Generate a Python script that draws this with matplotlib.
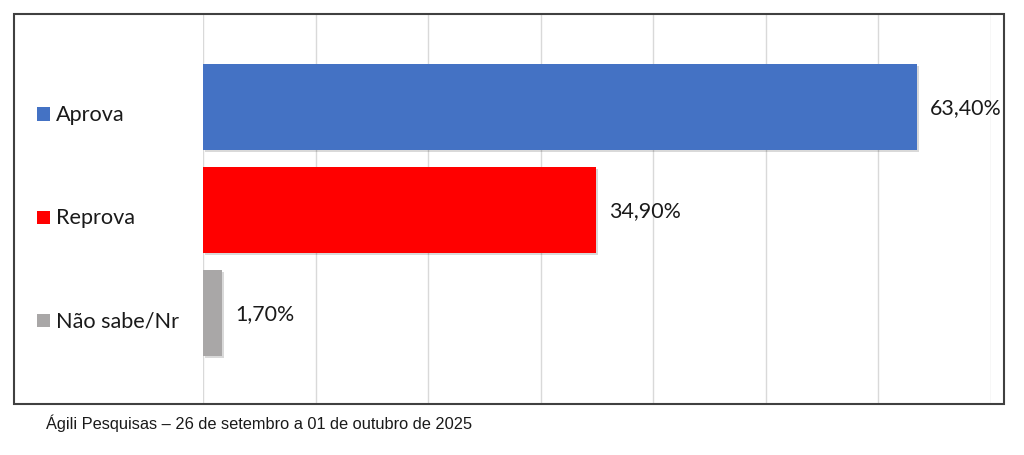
import matplotlib
matplotlib.use("Agg")
import matplotlib.pyplot as plt
from matplotlib.patches import Rectangle
from matplotlib import patheffects as pe
import matplotlib.transforms as mtransforms

categories = ["Aprova", "Reprova", "Não sabe/Nr"]
values = [63.4, 34.9, 1.7]
value_labels = ["63,40%", "34,90%", "1,70%"]
colors = ["#4472C4", "#FF0000", "#A9A7A7"]
footer = "Ágili Pesquisas – 26 de setembro a 01 de outubro de 2025"

W, H = 1024, 456
fig = plt.figure(figsize=(W / 100, H / 100), dpi=100)
fig.patch.set_facecolor("white")

# outer border box
fig.add_artist(Rectangle((14 / W, 1 - 405 / H), (1004 - 14) / W, (405 - 15) / H,
                         transform=fig.transFigure, fill=False,
                         edgecolor="#404040", linewidth=1.5))

ax = fig.add_axes([203 / W, 1 - 405 / H, (991 - 203) / W, (405 - 15) / H])
ax.set_xlim(0, 70)
ax.set_ylim(2 + 0.88, -0.9)
for s in ax.spines.values():
    s.set_visible(False)
ax.set_xticks(range(0, 71, 10))
ax.set_yticks([])
ax.tick_params(axis="x", length=0, labelbottom=False)
ax.grid(axis="x", color="#D9D9D9", linewidth=1)
ax.set_axisbelow(True)

ypos = list(range(len(categories)))
bars = ax.barh(ypos, values, height=0.835, color=colors, zorder=3)
for b in bars:
    b.set_path_effects([pe.SimplePatchShadow(offset=(1.5, -1.5), shadow_rgbFace="#000000", alpha=0.15),
                        pe.Normal()])

for y, v, lab in zip(ypos, values, value_labels):
    ax.annotate(lab, xy=(v, y), xytext=(9.4, 0), textcoords="offset points",
                ha="left", va="center", fontsize=15.4, family="Lato", color="#1a1a1a")

trans = mtransforms.blended_transform_factory(fig.transFigure, ax.transData)
for y, cat, c in zip(ypos, categories, colors):
    yl = y + 0.07
    ax.add_artist(Rectangle((37 / W, yl - 0.065), 13 / W, 0.13, transform=trans,
                            facecolor=c, edgecolor="none", clip_on=False))
    ax.text(56 / W, yl, cat, transform=trans, ha="left", va="center",
            fontsize=15.6, family="Lato", color="#1a1a1a", clip_on=False)

fig.text(46 / W, 1 - 423 / H, footer, ha="left", va="center",
         fontsize=11.8, family="Liberation Sans", color="#1a1a1a")

fig.savefig("out.png", dpi=100)
